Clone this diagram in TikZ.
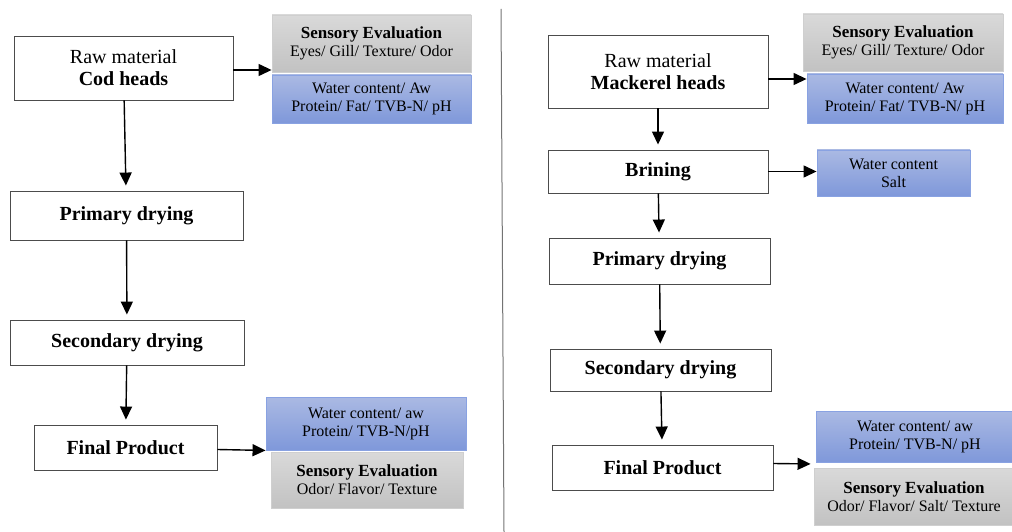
\documentclass[tikz,border=0pt]{standalone}
\usepackage{fontspec}
\setmainfont{Liberation Serif}
\usetikzlibrary{arrows.meta}
\definecolor{sensTop}{HTML}{D9D9D9}
\definecolor{sensBot}{HTML}{C2C2C2}
\definecolor{sensLine}{HTML}{CFCFCF}
\definecolor{measTop}{HTML}{AAB9E3}
\definecolor{measBot}{HTML}{7F98DA}
\definecolor{measLine}{HTML}{89A2E2}
\begin{document}
\begin{tikzpicture}[x=1pt,y=-1pt,line cap=butt,line join=miter]
			\tikzset{proc/.style={draw=black!70,line width=0.9pt,fill=white,align=center,inner sep=0pt,
					font=\fontsize{20}{22}\selectfont},
				sens/.style={draw=sensLine,line width=0.9pt,top color=sensTop,bottom color=sensBot,align=center,
					inner sep=0pt,font=\fontsize{16}{18}\selectfont},
				meas/.style={draw=measLine,line width=0.9pt,top color=measTop,bottom color=measBot,align=center,
					inner sep=0pt,font=\fontsize{16}{18}\selectfont},
				arr/.style={-{Triangle[length=13pt,width=12pt]},line width=1.4pt},
				flow/.style={arr,shorten >=5pt}
			}
			\useasboundingbox (0,0) rectangle (1012,532);
			% cod heads
			\node[proc,minimum width=219pt,minimum height=64pt] (raw) at (123.5,68) {Raw material\\\textbf{Cod heads}};
			\node[sens,minimum width=199pt,minimum height=57pt] (sensA) at (371.5,43.5) {{\fontsize{17}{18}\selectfont\bfseries Sensory Evaluation}\\Eyes/ Gill/ Texture/ Odor};
			\node[meas,minimum width=199pt,minimum height=48pt] (measA) at (371.5,99) {Water content/ Aw\\Protein/ Fat/ TVB-N/ pH};
			\node[proc,minimum width=233pt,minimum height=49pt,font=\fontsize{20}{22}\selectfont\bfseries] (prim) at (126.5,215.5) {Primary drying};
			\node[proc,minimum width=234pt,minimum height=45pt,font=\fontsize{20}{22}\selectfont\bfseries] (sec) at (127,342.5) {Secondary drying};
			\node[proc,minimum width=183pt,minimum height=45pt,font=\fontsize{20}{22}\selectfont\bfseries] (fin) at (125.5,447.5) {Final Product};
			\node[meas,minimum width=200pt,minimum height=53pt] (measB) at (366,423.5) {Water content/ aw\\Protein/ TVB-N/pH};
			\node[sens,minimum width=192pt,minimum height=56pt] (sensB) at (367,480) {{\fontsize{17}{18}\selectfont\bfseries Sensory Evaluation}\\Odor/ Flavor/ Texture};
			\draw[flow] (raw) -- (prim);
			\draw[flow] (prim) -- (sec);
			\draw[flow] (sec) -- (fin);
			\draw[arr] ([yshift=-2pt]raw.east) -- ([yshift=-2pt]raw.east -| measA.west);
			\draw[arr] ([yshift=-2pt]fin.east) -- (measB.south west);
			% divider
			\coordinate (divtop) at (501,9);
			\coordinate (divbot) at (504,532);
			\draw[black!55,line width=1pt] (divtop) -- (divbot);
			% mackerel heads
			\node[proc,minimum width=220pt,minimum height=73pt] (rawR) at (658,71.5) {Raw material\\\textbf{Mackerel heads}};
			\node[sens,minimum width=200pt,minimum height=57pt] (sensC) at (903,42.5) {{\fontsize{17}{18}\selectfont\bfseries Sensory Evaluation}\\Eyes/ Gill/ Texture/ Odor};
			\node[meas,minimum width=196pt,minimum height=49pt] (measC) at (905,98.5) {Water content/ Aw\\Protein/ Fat/ TVB-N/ pH};
			\node[proc,minimum width=220pt,minimum height=43pt,font=\fontsize{20}{22}\selectfont\bfseries] (brine) at (658,171.5) {Brining};
			\node[meas,minimum width=153pt,minimum height=46pt] (saltM) at (893.5,173) {Water content\\Salt};
			\node[proc,minimum width=221pt,minimum height=46pt,font=\fontsize{20}{22}\selectfont\bfseries] (primR) at (659.5,261) {Primary drying};
			\node[proc,minimum width=221pt,minimum height=42pt,font=\fontsize{20}{22}\selectfont\bfseries] (secR) at (660.5,370) {Secondary drying};
			\node[proc,minimum width=221pt,minimum height=45pt,font=\fontsize{20}{22}\selectfont\bfseries] (finR) at (662.5,467.5) {Final Product};
			\node[meas,minimum width=198pt,minimum height=51pt] (measD) at (915,436.5) {Water content/ aw\\Protein/ TVB-N/ pH};
			\node[sens,minimum width=200pt,minimum height=57pt] (sensD) at (914,496.5) {{\fontsize{17}{18}\selectfont\bfseries Sensory Evaluation}\\Odor/ Flavor/ Salt/ Texture};
			\draw[flow] (rawR) -- (brine);
			\draw[flow] (brine) -- (primR);
			\draw[flow] (primR) -- (secR);
			\draw[flow] (secR) -- (finR);
			\draw[arr] ([yshift=-7.5pt]rawR.east) -- ([yshift=-7.5pt]rawR.east -| measC.west);
			\draw[arr] (brine.east) -- (brine.east -| saltM.west);
			\draw[arr] ([yshift=4pt]finR.east) -- ([xshift=-5pt,yshift=-1.5pt]measD.south west);
		\end{tikzpicture}
\end{document}
